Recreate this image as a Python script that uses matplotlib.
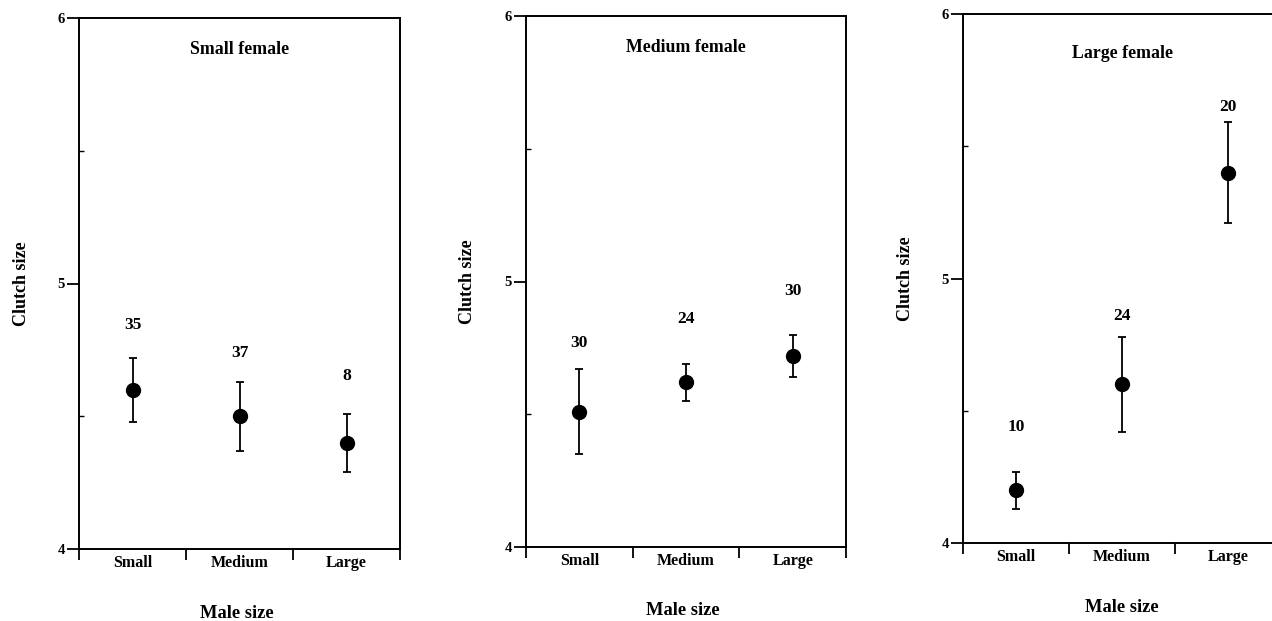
import matplotlib
matplotlib.use("Agg")
import matplotlib.pyplot as plt
import numpy as np

# ---- data ----
male_sizes = ["Small", "Medium", "Large"]
panel_titles = ["Small female", "Medium female", "Large female"]
means = [
    [4.60, 4.50, 4.40],
    [4.51, 4.62, 4.72],
    [4.20, 4.60, 5.40],
]
errors = [
    [0.12, 0.13, 0.11],
    [0.16, 0.07, 0.08],
    [0.07, 0.18, 0.19],
]
sample_sizes = [
    ["35", "37", "8"],
    ["30", "24", "30"],
    ["10", "24", "20"],
]
y_ticks = [4, 5, 6]

# ---- layout (not data) ----
label_gap = [
    [0.125, 0.107, 0.14],
    [0.10, 0.17, 0.165],
    [0.17, 0.08, 0.06],
]
W, H = 1272, 621
positions = [
    [79 / W, (H - 549) / H, 321 / W, 531 / H],
    [526 / W, (H - 547) / H, 320 / W, 531 / H],
    [963 / W, (H - 543) / H, 318 / W, 529 / H],
]
title_y = [0.94, 0.94, 0.926]
xlab_pos = [(0.492, -0.121), (0.49, -0.120), (0.5, -0.121)]
ylab_x = [-0.178, -0.184, -0.182]

plt.rcParams["font.family"] = ["Liberation Serif", "DejaVu Serif"]
plt.rcParams["font.weight"] = "bold"

fig = plt.figure(figsize=(12.72, 6.21), dpi=100)

for i in range(3):
    ax = fig.add_axes(positions[i])
    xs = np.arange(len(male_sizes)) + 0.5
    ax.errorbar(xs, means[i], yerr=errors[i], fmt="o", color="black",
                markersize=10, elinewidth=1.3, capsize=3.2, capthick=1.3)
    for x, m, e, n, g in zip(xs, means[i], errors[i], sample_sizes[i], label_gap[i]):
        ax.text(x, m + e + g, n, ha="center", va="center", fontsize=12.5,
                fontweight="bold")
    ax.set_xlim(0, 3)
    ax.set_ylim(4, 6)
    ax.set_yticks(y_ticks)
    ax.set_yticklabels([str(t) for t in y_ticks], fontsize=10.5, fontweight="bold")
    ax.set_yticks([4.5, 5.5], minor=True)
    ax.set_xticks([0, 1, 2, 3])
    ax.set_xticklabels([])
    ax.set_xticks(xs, minor=True)
    ax.set_xticklabels(male_sizes, minor=True, fontsize=11.5, fontweight="bold")
    ax.tick_params(axis="x", which="major", direction="out", length=8, width=1.3)
    ax.tick_params(axis="x", which="minor", length=0, pad=4)
    ax.tick_params(axis="y", which="major", direction="out", length=8.5, width=1.3, pad=1.5)
    ax.tick_params(axis="y", which="minor", direction="in", length=3.5, width=1)
    for s in ax.spines.values():
        s.set_linewidth(1.4)
    ax.text(0.5, title_y[i], panel_titles[i], transform=ax.transAxes,
            ha="center", va="center", fontsize=12.8, fontweight="bold")
    ax.text(xlab_pos[i][0], xlab_pos[i][1], "Male size", transform=ax.transAxes,
            ha="center", va="center", fontsize=13.3, fontweight="bold")
    ax.text(ylab_x[i], 0.5, "Clutch size", transform=ax.transAxes, rotation=90,
            ha="center", va="center", fontsize=13, fontweight="bold")

fig.savefig("out.png", dpi=100, facecolor="white")
